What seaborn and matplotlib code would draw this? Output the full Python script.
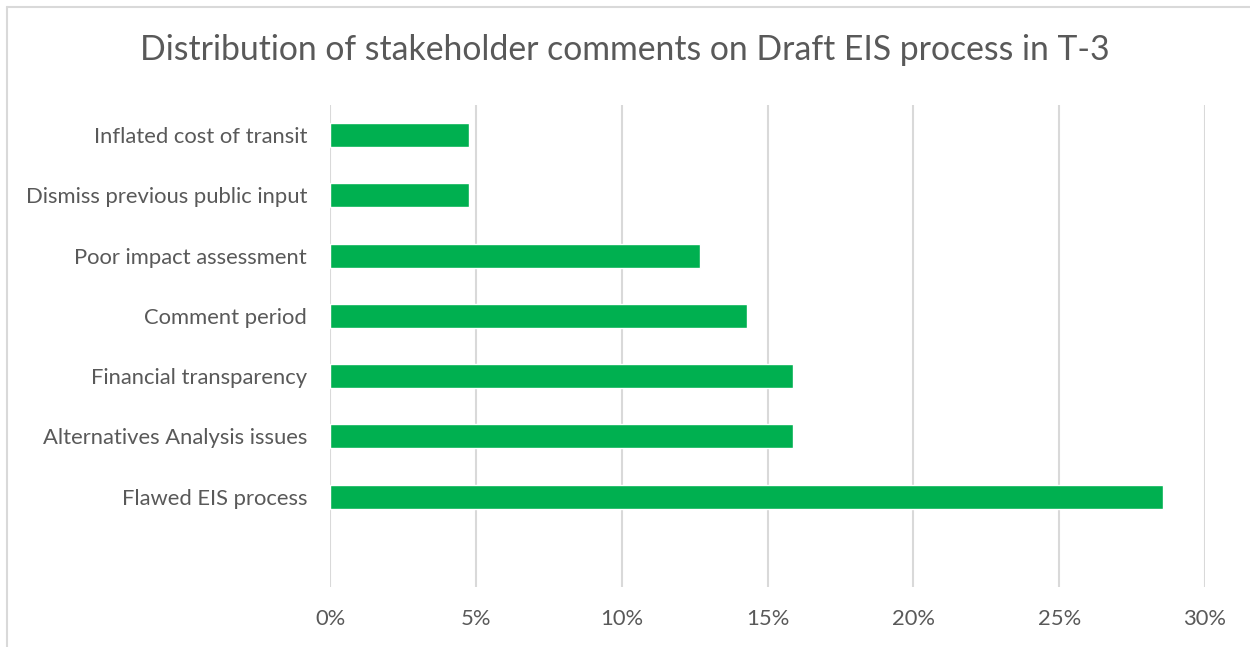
import matplotlib
matplotlib.use("Agg")
import matplotlib.pyplot as plt
from matplotlib.lines import Line2D
from matplotlib.ticker import FuncFormatter, MultipleLocator
import seaborn as sns
import pandas as pd

categories = [
    "Inflated cost of transit",
    "Dismiss previous public input",
    "Poor impact assessment",
    "Comment period",
    "Financial transparency",
    "Alternatives Analysis issues",
    "Flawed EIS process",
]
shares = [4.76, 4.76, 12.70, 14.29, 15.87, 15.87, 28.57]

df = pd.DataFrame({"category": categories, "share": shares})

sns.set_theme(style="white")
plt.rcParams["font.family"] = ["Lato", "DejaVu Sans"]

fig = plt.figure(figsize=(12.5, 6.47), dpi=100)
ax = fig.add_axes([330 / 1250, 1 - 587 / 647, 875 / 1250, 482 / 647])

sns.barplot(data=df, x="share", y="category", order=categories,
            color="#00B050", saturation=1, width=0.4, ax=ax)

ax.set_xlim(0, 30)
ax.set_ylim(7.5, -0.5)
ax.xaxis.set_major_locator(MultipleLocator(5))
ax.xaxis.set_major_formatter(FuncFormatter(lambda v, _: f"{v:.0f}%"))
ax.grid(axis="x", color="#D9D9D9", linewidth=1.5)
ax.set_axisbelow(True)
for s in ax.spines.values():
    s.set_visible(False)
ax.set_xlabel("")
ax.set_ylabel("")
ax.tick_params(axis="both", length=0, labelsize=15.8, colors="#595959")
ax.tick_params(axis="x", pad=16)
ax.tick_params(axis="y", pad=16.5)

fig.text(0.5, 1 - 50 / 647, "Distribution of stakeholder comments on Draft EIS process in T-3",
         ha="center", va="center", fontsize=24.3, color="#595959")

# chart frame (top and left edges)
fig.add_artist(Line2D([7 / 1250, 1], [1 - 7 / 647, 1 - 7 / 647], transform=fig.transFigure,
                      color="#D9D9D9", linewidth=1.5))
fig.add_artist(Line2D([7 / 1250, 7 / 1250], [0, 1 - 7 / 647], transform=fig.transFigure,
                      color="#D9D9D9", linewidth=1.5))

fig.savefig("out.png", dpi=100)
